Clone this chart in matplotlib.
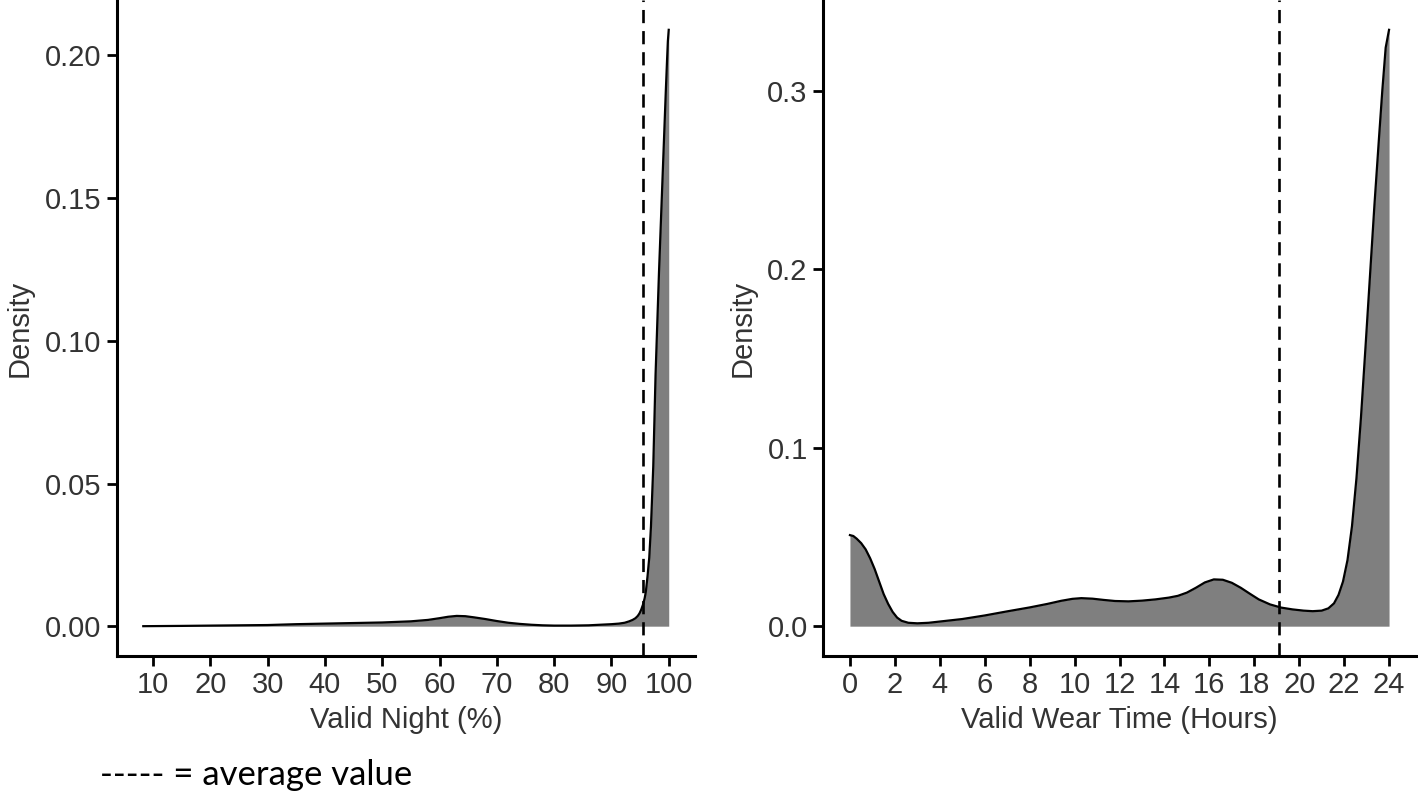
import matplotlib
matplotlib.use("Agg")
import matplotlib.pyplot as plt

# ---- data ----
night_x = [8.3, 15, 20, 25, 30, 35, 40, 45, 50, 55, 58, 60, 61.5, 63, 64.5, 66, 68, 70, 72, 74,
           76, 78, 80, 83, 86, 88, 90, 91.3, 92.3, 93.1, 93.7, 94.2, 94.6, 94.9, 95.2, 95.5,
           95.8, 96.0, 96.3, 96.6, 96.9, 97.3, 97.7, 98.3, 98.9, 99.2, 99.5, 99.7, 99.85, 100]
night_y = [0.0, 0.0001, 0.0002, 0.0003, 0.0004, 0.0007, 0.0009, 0.0011, 0.0013, 0.0017, 0.0022,
           0.0028, 0.0033, 0.0036, 0.0035, 0.0031, 0.0025, 0.0018, 0.0012, 0.0008,
           0.0005, 0.0003, 0.0002, 0.0002, 0.0003, 0.0005, 0.0007, 0.0009, 0.0012, 0.0017,
           0.0022, 0.0028, 0.0036, 0.0045, 0.0058, 0.0075, 0.0098, 0.0120, 0.0175, 0.0240,
           0.0350, 0.0560, 0.0880, 0.1240, 0.1560, 0.1720, 0.1880, 0.1980, 0.2050, 0.2090]
night_mean = 95.5

wear_x = [0.0, 0.15, 0.3, 0.5, 0.7, 0.9, 1.1, 1.3, 1.5, 1.7, 1.9, 2.1, 2.3, 2.6, 3.0, 3.5, 4.0,
          5.0, 6.0, 7.0, 8.0, 8.8, 9.4, 9.9, 10.3, 10.8, 11.3, 11.8, 12.4, 13.0, 13.6, 14.2,
          14.6, 15.0, 15.4, 15.8, 16.2, 16.6, 17.0, 17.4, 17.8, 18.2, 18.7, 19.2, 19.7, 20.2,
          20.6, 21.0, 21.3, 21.55, 21.75, 21.95, 22.15, 22.35, 22.55, 22.75, 22.95, 23.15,
          23.35, 23.55, 23.7, 23.85, 24.0]
wear_y = [0.051, 0.0505, 0.049, 0.0465, 0.043, 0.038, 0.032, 0.025, 0.018, 0.0125, 0.008,
          0.0048, 0.003, 0.0019, 0.0016, 0.0019, 0.0026, 0.0040, 0.0060, 0.0083, 0.0105,
          0.0125, 0.0142, 0.0153, 0.0157, 0.0154, 0.0147, 0.0141, 0.0139, 0.0143, 0.0150,
          0.0160, 0.0170, 0.0188, 0.0215, 0.0245, 0.0262, 0.0260, 0.0243, 0.0215, 0.0182,
          0.0150, 0.0122, 0.0104, 0.0094, 0.0087, 0.0084, 0.0087, 0.0100, 0.0128, 0.0175,
          0.0250, 0.0370, 0.0560, 0.0830, 0.1170, 0.1560, 0.1960, 0.2360, 0.2730, 0.3000,
          0.3240, 0.3340]
wear_mean = 19.1

night_ticks = [10, 20, 30, 40, 50, 60, 70, 80, 90, 100]
night_yticks = [0.00, 0.05, 0.10, 0.15, 0.20]
wear_ticks = list(range(0, 25, 2))
wear_yticks = [0.0, 0.1, 0.2, 0.3]

FONT = ["Liberation Sans", "DejaVu Sans"]
W, H = 1418, 793
fig = plt.figure(figsize=(W / 100, H / 100), dpi=100)

def px_axes(x0, x1, y0, y1):
    return fig.add_axes([x0 / W, 1 - y1 / H, (x1 - x0) / W, (y1 - y0) / H])

def style(ax, xticks, yticks, xfmt, yfmt, xlabel):
    for s in ["top", "right"]:
        ax.spines[s].set_visible(False)
    for s in ["left", "bottom"]:
        ax.spines[s].set_linewidth(2.2)
        ax.spines[s].set_color("black")
    ax.set_xticks(xticks)
    ax.set_xticklabels([xfmt(v) for v in xticks], family=FONT, fontsize=21, color="#333333")
    ax.set_yticks(yticks)
    ax.set_yticklabels([yfmt(v) for v in yticks], family=FONT, fontsize=21, color="#333333")
    ax.tick_params(axis="both", length=7, width=2.0, color="black", pad=4)
    ax.set_xlabel(xlabel, family=FONT, fontsize=21, color="#333333", labelpad=5)
    ax.set_ylabel("Density", family=FONT, fontsize=21, color="#333333", labelpad=8)
    ax.set_facecolor("white")

# left panel
ax1 = px_axes(117, 695, 0, 656)
ax1.fill_between(night_x, night_y, 0, color="#7f7f7f", linewidth=0)
ax1.plot(night_x, night_y, color="black", linewidth=1.6)
ax1.axvline(night_mean, color="black", linestyle=(0, (5, 3)), linewidth=1.9)
rng = night_x[-1] - night_x[0]
ax1.set_xlim(night_x[0] - 0.05 * rng, night_x[-1] + 0.05 * rng)
ymax = max(night_y)
ax1.set_ylim(-0.05 * ymax, 1.05 * ymax)
style(ax1, night_ticks, night_yticks, lambda v: f"{v:d}", lambda v: f"{v:.2f}", "Valid Night (%)")

# right panel
ax2 = px_axes(823, 1416, 0, 656)
ax2.fill_between(wear_x, wear_y, 0, color="#7f7f7f", linewidth=0)
ax2.plot(wear_x, wear_y, color="black", linewidth=1.6)
ax2.axvline(wear_mean, color="black", linestyle=(0, (5, 3)), linewidth=1.9)
rng = wear_x[-1] - wear_x[0]
ax2.set_xlim(wear_x[0] - 0.05 * rng, wear_x[-1] + 0.05 * rng)
ymax = max(wear_y)
ax2.set_ylim(-0.05 * ymax, 1.05 * ymax)
style(ax2, wear_ticks, wear_yticks, lambda v: f"{v:d}", lambda v: f"{v:.1f}", "Valid Wear Time (Hours)")

fig.text(100 / W, 1 - 775 / H, "----- = average value", family=["Lato", "DejaVu Sans"],
         fontsize=25, color="black", va="center", ha="left")

fig.savefig("out.png", dpi=100, facecolor="white")
